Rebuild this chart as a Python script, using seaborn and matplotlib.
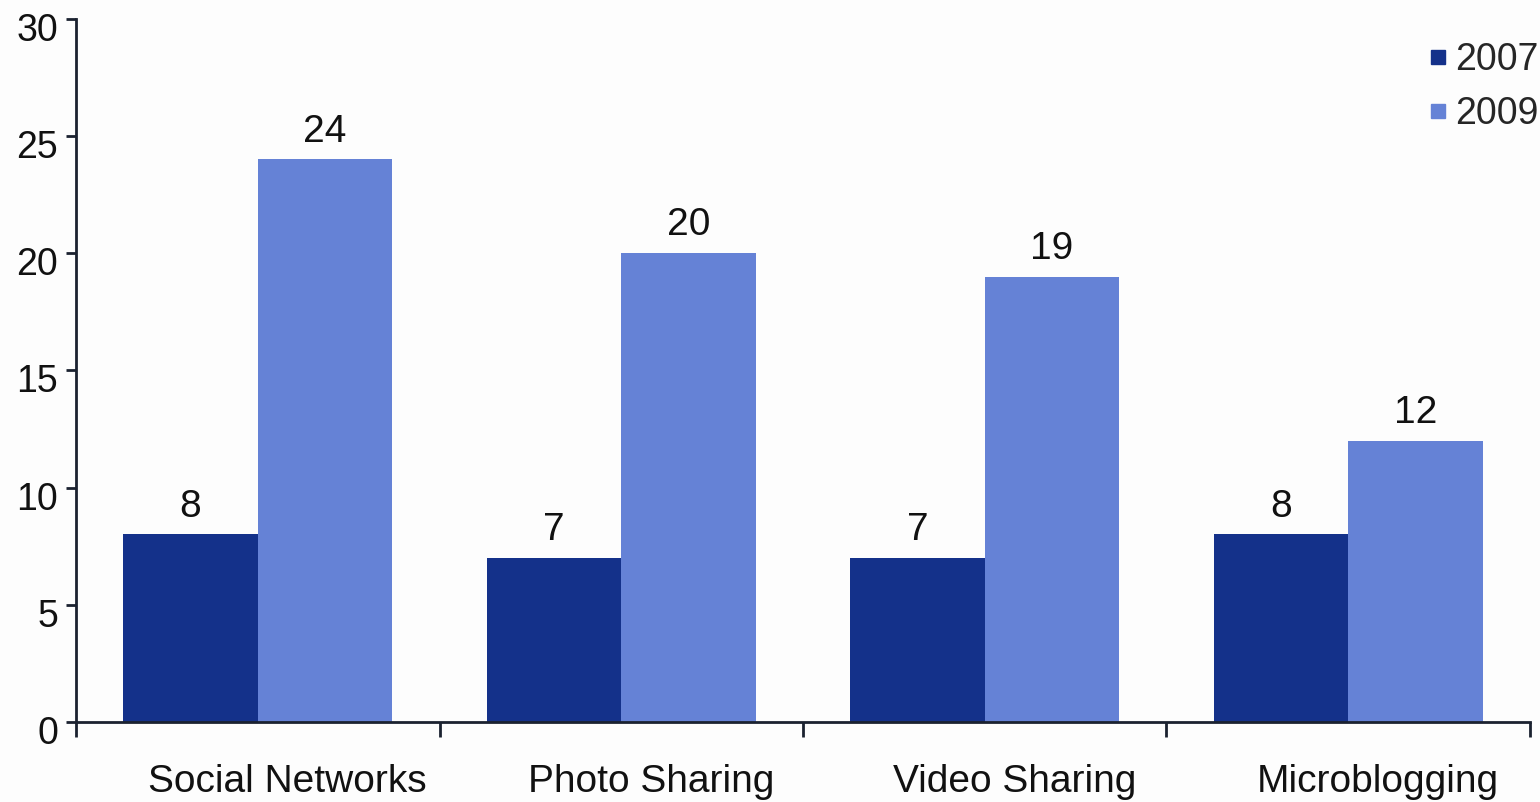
import matplotlib
matplotlib.use("Agg")
import matplotlib.pyplot as plt
import matplotlib.transforms as mtransforms
import numpy as np
import pandas as pd
import seaborn as sns

# values
categories = ["Social Networks", "Photo Sharing", "Video Sharing", "Microblogging"]
years = ["2007", "2009"]
values_2007 = [8, 7, 7, 8]
values_2009 = [24, 20, 19, 12]

df = pd.DataFrame({
    "Category": categories * 2,
    "Year": [years[0]] * len(categories) + [years[1]] * len(categories),
    "Value": values_2007 + values_2009,
})

sns.set_style("white")
plt.rcParams["font.family"] = ["Liberation Sans", "DejaVu Sans"]

colors = {"2007": "#14318a", "2009": "#6582d6"}
axis_color = "#1b2230"

fig = plt.figure(figsize=(15.4, 8.02), dpi=100)
fig.patch.set_facecolor("#fdfdfd")
ax = fig.add_axes([0.0494, 0.0998, 0.944, 0.877])
ax.set_facecolor("#fdfdfd")

sns.barplot(
    data=df, x="Category", y="Value", hue="Year", palette=colors,
    width=0.74, saturation=1, ax=ax, legend=False, linewidth=0,
)

for cont in ax.containers:
    ax.bar_label(cont, fmt="%d", padding=7, fontsize=28, color="#111111")

ax.set_xlim(-0.5, len(categories) - 0.5)
ax.set_ylim(0, 30)
ax.set_yticks(np.arange(0, 31, 5))
ax.set_xlabel("")
ax.set_ylabel("")

# category separators as minor ticks on x
ax.set_xticks(np.arange(-0.5, len(categories), 1), minor=True)
ax.tick_params(axis="x", which="major", length=0, pad=30, labelsize=28,
               labelcolor="#111111")
ax.tick_params(axis="x", which="minor", bottom=True, length=11, width=2,
               color=axis_color, direction="out")
ax.tick_params(axis="y", which="major", left=True, length=7, width=2,
               color=axis_color, direction="out", pad=6, labelsize=27,
               labelcolor="#111111")

# category labels sit a little right of the group centres,
# y labels a little below their ticks
shift_x = mtransforms.ScaledTranslation(0.3, 0, fig.dpi_scale_trans)
for lbl in ax.get_xticklabels():
    lbl.set_transform(lbl.get_transform() + shift_x)
shift_y = mtransforms.ScaledTranslation(0, -0.08, fig.dpi_scale_trans)
for lbl in ax.get_yticklabels():
    lbl.set_transform(lbl.get_transform() + shift_y)

sns.despine(ax=ax)
for side in ["left", "bottom"]:
    ax.spines[side].set_color(axis_color)
    ax.spines[side].set_linewidth(2)

# legend: small squares at top right
handles = [plt.Line2D([], [], marker="s", linestyle="", markersize=10,
                      color=colors[y]) for y in years]
fig.legend(handles, years, loc="upper left", bbox_to_anchor=(0.928, 0.948),
           frameon=False, fontsize=27, handlelength=0.5, handletextpad=0.2,
           labelspacing=0.5, borderaxespad=0, borderpad=0)

fig.savefig("out.png", dpi=100, facecolor=fig.get_facecolor())
